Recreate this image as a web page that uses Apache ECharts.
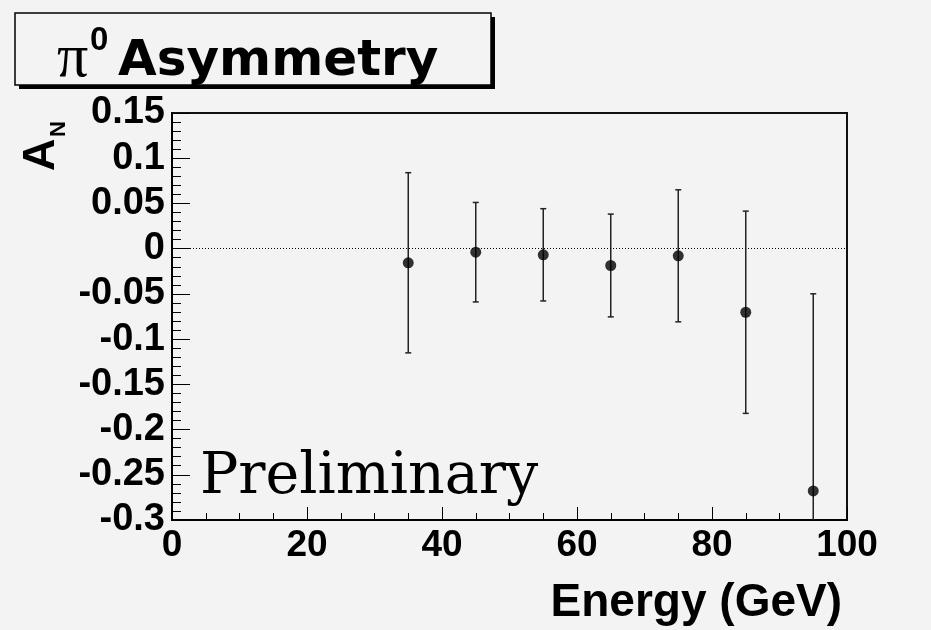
<!DOCTYPE html>
<html>
<head>
<meta charset="utf-8">
<script src="https://cdn.jsdelivr.net/npm/echarts@6/dist/echarts.min.js"></script>
<style>
  html, body { margin: 0; padding: 0; background: #f3f3f3; }
  #chart { width: 931px; height: 630px; }
</style>
</head>
<body>
<div id="chart"></div>
<script>
// ---- data ----
const energy = [35, 45, 55, 65, 75, 85, 95];              // GeV
const asym = [-0.0156, -0.0039, -0.0068, -0.0186, -0.0079, -0.0703, -0.2679];
const asymErr = [0.0996, 0.055, 0.051, 0.0568, 0.073, 0.1118, 0.218];
const xTicks = [0, 20, 40, 60, 80, 100];
const yTicks = [0.15, 0.1, 0.05, 0, -0.05, -0.1, -0.15, -0.2, -0.25, -0.3];
const titleText = ['\u03c0', '0', 'Asymmetry'];
const xTitle = 'Energy (GeV)';
const yTitle = ['A', 'N'];
const watermark = 'Preliminary';

const pointData = energy.map((e, i) => [e, asym[i]]);
const errData = energy.map((e, i) => [e, asym[i] - asymErr[i], asym[i] + asymErr[i]]);

const chart = echarts.init(document.getElementById('chart'), null, { renderer: 'canvas' });
const sans = 'Liberation Sans, Arial, sans-serif';

chart.setOption({
  backgroundColor: '#f3f3f3',
  animation: false,
  grid: { left: 172, right: 84, top: 113, bottom: 110, show: true, borderColor: '#111', borderWidth: 2, backgroundColor: 'transparent' },
  xAxis: {
    type: 'value', min: xTicks[0], max: xTicks[xTicks.length - 1], interval: 20,
    axisLine: { show: true, onZero: false, lineStyle: { color: '#000', width: 2 } },
    axisTick: { show: true, inside: true, length: 13, lineStyle: { color: '#000', width: 1 } },
    minorTick: { show: true, splitNumber: 4, length: 7, lineStyle: { color: '#000', width: 1 } },
    splitLine: { show: false },
    axisLabel: { show: true, margin: 7, showMinLabel: true, showMaxLabel: true,
      color: '#000', fontSize: 37, fontWeight: 'bold', fontFamily: sans,
      formatter: v => { const t = xTicks.find(k => Math.abs(k - v) < 1e-9); return t === undefined ? '' : String(t); } }
  },
  yAxis: {
    type: 'value', min: yTicks[yTicks.length - 1], max: yTicks[0], interval: 0.05,
    axisLine: { show: true, onZero: false, lineStyle: { color: '#000', width: 2 } },
    axisTick: { show: true, inside: true, length: 18, lineStyle: { color: '#000', width: 1 } },
    minorTick: { show: true, splitNumber: 5, length: 9, lineStyle: { color: '#000', width: 1 } },
    splitLine: { show: false },
    axisLabel: { show: true, margin: 7, showMinLabel: true, showMaxLabel: true,
      color: '#000', fontSize: 38, fontWeight: 'bold', fontFamily: sans,
      formatter: v => { const t = yTicks.find(k => Math.abs(k - v) < 1e-6); return t === undefined ? '' : String(t); } }
  },
  series: [
    {
      type: 'custom',
      clip: true,
      silent: true,
      data: errData,
      encode: { x: 0, y: [1, 2] },
      renderItem: function (params, api) {
        const x = api.value(0);
        const lo = api.coord([x, api.value(1)]);
        const hi = api.coord([x, api.value(2)]);
        const cap = 3;
        const st = { stroke: '#222', lineWidth: 1.5 };
        return {
          type: 'group',
          children: [
            { type: 'line', shape: { x1: lo[0], y1: lo[1], x2: hi[0], y2: hi[1] }, style: st },
            { type: 'line', shape: { x1: lo[0] - cap, y1: lo[1], x2: lo[0] + cap, y2: lo[1] }, style: st },
            { type: 'line', shape: { x1: hi[0] - cap, y1: hi[1], x2: hi[0] + cap, y2: hi[1] }, style: st }
          ]
        };
      },
      markLine: {
        silent: true, symbol: 'none', label: { show: false },
        lineStyle: { color: '#000', width: 1, type: [1, 2] },
        data: [{ yAxis: 0 }]
      },
      z: 2
    },
    {
      type: 'scatter',
      data: pointData,
      symbol: 'circle',
      symbolSize: 11,
      itemStyle: { color: '#000' },
      silent: true,
      z: 3
    }
  ],
  graphic: [
    // title box shadow
    { type: 'rect', shape: { x: 19, y: 17, width: 476, height: 72 }, style: { fill: '#000' }, z: 10 },
    { type: 'rect', shape: { x: 15, y: 13, width: 476, height: 72 }, style: { fill: '#f3f3f3', stroke: '#000', lineWidth: 1.5 }, z: 11 },
    { type: 'text', x: 57, y: 60, z: 12, style: { text: titleText[0], font: '62px "Liberation Serif", "Times New Roman", serif', fill: '#000', align: 'left', verticalAlign: 'middle' } },
    { type: 'text', x: 90, y: 41, z: 12, style: { text: titleText[1], font: 'bold 33px "Liberation Sans", Arial, sans-serif', fill: '#000', align: 'left', verticalAlign: 'middle' } },
    { type: 'text', x: 118, y: 62, z: 12, style: { text: titleText[2], font: 'bold 50px "DejaVu Sans", sans-serif', fill: '#000', align: 'left', verticalAlign: 'middle' } },
    // x axis title
    { type: 'text', x: 842, y: 603, z: 12, style: { text: xTitle, font: 'bold 46px "Liberation Sans", Arial, sans-serif', fill: '#000', align: 'right', verticalAlign: 'middle' } },
    // y axis title (rotated)
    { type: 'text', x: 42, y: 171, rotation: Math.PI / 2, z: 12, style: { text: yTitle[0], font: 'bold 45px "Liberation Sans", Arial, sans-serif', fill: '#000', align: 'left', verticalAlign: 'middle' } },
    { type: 'text', x: 59, y: 137, rotation: Math.PI / 2, z: 12, style: { text: yTitle[1], font: 'bold 22px "Liberation Sans", Arial, sans-serif', fill: '#000', align: 'left', verticalAlign: 'middle' } },
    // watermark
    { type: 'text', x: 200, y: 478, z: 12, style: { text: watermark, font: '57px "DejaVu Serif", "Liberation Serif", serif', fill: '#000', align: 'left', verticalAlign: 'middle' } }
  ]
});
</script>
</body>
</html>
